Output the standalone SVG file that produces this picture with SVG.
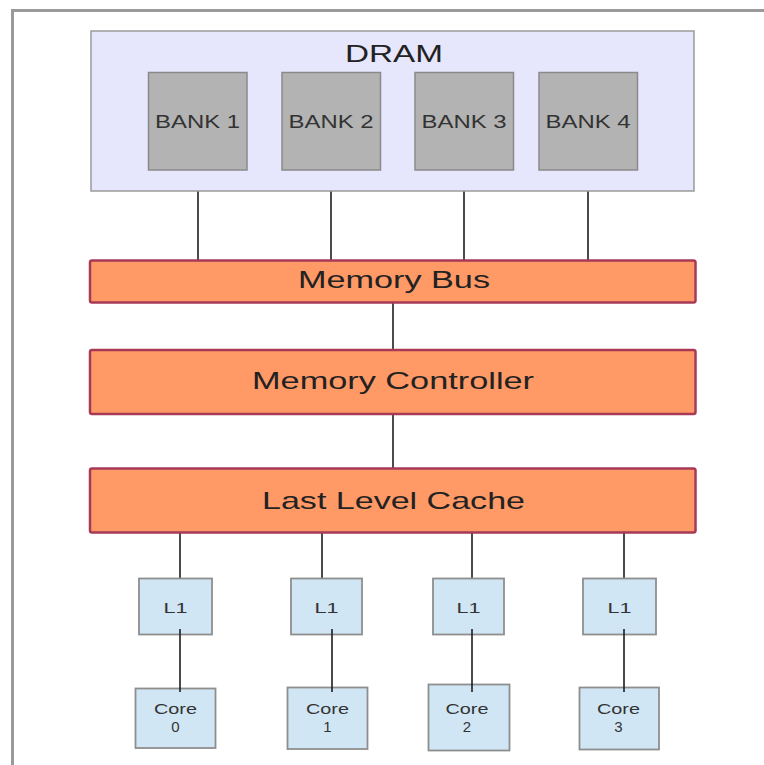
<svg xmlns="http://www.w3.org/2000/svg" width="764" height="765" viewBox="0 0 764 765">
  <style>
    .frame { fill: none; stroke: #9a9a9a; stroke-width: 3; }
    .dram { fill: #e6e6fc; stroke: #9a9a9a; stroke-width: 1.5; }
    .bank { fill: #b3b3b3; stroke: #8a8a8a; stroke-width: 1.5; }
    .bar { fill: #ff9966; stroke: #a83a58; stroke-width: 2.5; }
    .cache { fill: #d0e6f4; stroke: #8e8e8e; stroke-width: 1.8; }
    .wire { stroke: #1e1e1e; stroke-width: 1.6; fill: none; }
    text { font-family: "Liberation Sans", Arial, sans-serif; text-anchor: middle; fill: #222; }
    .t-big { font-size: 24px; }
    .t-bank { font-size: 18px; fill: #333; }
    .t-small { font-size: 15px; fill: #333; }
  </style>

  <!-- outer frame (left and top edges only) -->
  <path class="frame" d="M12.5 765 V10.5 H764"/>

  <!-- connectors -->
  <g id="connectors">
    <line class="wire" x1="198" y1="170" x2="198" y2="260"/>
    <line class="wire" x1="331" y1="170" x2="331" y2="260"/>
    <line class="wire" x1="464" y1="170" x2="464" y2="260"/>
    <line class="wire" x1="588" y1="170" x2="588" y2="260"/>
    <line class="wire" x1="393" y1="303" x2="393" y2="350"/>
    <line class="wire" x1="393" y1="414" x2="393" y2="468"/>
    <line class="wire" x1="180" y1="533" x2="180" y2="578"/>
    <line class="wire" x1="322" y1="533" x2="322" y2="578"/>
    <line class="wire" x1="472" y1="533" x2="472" y2="578"/>
    <line class="wire" x1="624" y1="533" x2="624" y2="578"/>
  </g>

  <!-- DRAM with its four banks -->
  <g id="dram">
    <rect class="dram" x="91" y="31" width="603" height="160"/>
    <text class="t-big" x="394" y="62" textLength="98" lengthAdjust="spacingAndGlyphs">DRAM</text>
  </g>
  <g id="bank1">
    <rect class="bank" x="148.5" y="72.5" width="98.5" height="97.5"/>
    <text class="t-bank" x="197.5" y="128" textLength="85" lengthAdjust="spacingAndGlyphs">BANK 1</text>
  </g>
  <g id="bank2">
    <rect class="bank" x="282" y="72.5" width="98.5" height="97.5"/>
    <text class="t-bank" x="331" y="128" textLength="85" lengthAdjust="spacingAndGlyphs">BANK 2</text>
  </g>
  <g id="bank3">
    <rect class="bank" x="415" y="72.5" width="98.5" height="97.5"/>
    <text class="t-bank" x="464" y="128" textLength="85" lengthAdjust="spacingAndGlyphs">BANK 3</text>
  </g>
  <g id="bank4">
    <rect class="bank" x="539" y="72.5" width="98.5" height="97.5"/>
    <text class="t-bank" x="588" y="128" textLength="85" lengthAdjust="spacingAndGlyphs">BANK 4</text>
  </g>

  <!-- shared levels -->
  <g id="memory-bus">
    <rect class="bar" x="90" y="260.5" width="605.5" height="42" rx="2"/>
    <text class="t-big" x="394" y="288" textLength="192" lengthAdjust="spacingAndGlyphs">Memory Bus</text>
  </g>
  <g id="memory-controller">
    <rect class="bar" x="90" y="350" width="605.5" height="64" rx="2"/>
    <text class="t-big" x="393" y="389" textLength="282" lengthAdjust="spacingAndGlyphs">Memory Controller</text>
  </g>
  <g id="last-level-cache">
    <rect class="bar" x="90" y="468.5" width="605.5" height="64" rx="2"/>
    <text class="t-big" x="393.5" y="509" textLength="263" lengthAdjust="spacingAndGlyphs">Last Level Cache</text>
  </g>

  <!-- private L1 caches -->
  <g id="l1-0">
    <rect class="cache" x="139" y="578.5" width="73" height="56"/>
    <text class="t-small" x="175.5" y="613" textLength="24" lengthAdjust="spacingAndGlyphs">L1</text>
  </g>
  <g id="l1-1">
    <rect class="cache" x="291" y="578.5" width="71" height="56"/>
    <text class="t-small" x="326.5" y="613" textLength="24" lengthAdjust="spacingAndGlyphs">L1</text>
  </g>
  <g id="l1-2">
    <rect class="cache" x="433" y="578.5" width="71" height="56"/>
    <text class="t-small" x="468.5" y="613" textLength="24" lengthAdjust="spacingAndGlyphs">L1</text>
  </g>
  <g id="l1-3">
    <rect class="cache" x="583" y="578.5" width="73" height="56"/>
    <text class="t-small" x="619.5" y="613" textLength="24" lengthAdjust="spacingAndGlyphs">L1</text>
  </g>

  <!-- cores -->
  <g id="core-0">
    <rect class="cache" x="135.5" y="688.5" width="80" height="59.5"/>
    <text class="t-small" x="175.5" y="714" textLength="43" lengthAdjust="spacingAndGlyphs">Core</text>
    <text class="t-small" x="175.5" y="732">0</text>
  </g>
  <g id="core-1">
    <rect class="cache" x="287.5" y="687.5" width="80" height="61.5"/>
    <text class="t-small" x="327.5" y="714" textLength="43" lengthAdjust="spacingAndGlyphs">Core</text>
    <text class="t-small" x="327.5" y="732">1</text>
  </g>
  <g id="core-2">
    <rect class="cache" x="428.5" y="684.5" width="81" height="66"/>
    <text class="t-small" x="467" y="714" textLength="43" lengthAdjust="spacingAndGlyphs">Core</text>
    <text class="t-small" x="467" y="732">2</text>
  </g>
  <g id="core-3">
    <rect class="cache" x="579.5" y="687.5" width="79.5" height="62"/>
    <text class="t-small" x="618.5" y="714" textLength="43" lengthAdjust="spacingAndGlyphs">Core</text>
    <text class="t-small" x="618.5" y="732">3</text>
  </g>

  <!-- L1 to core links, drawn over the box edges -->
  <g id="core-links">
    <line class="wire" x1="180" y1="629" x2="180" y2="692"/>
    <line class="wire" x1="332" y1="629" x2="332" y2="692"/>
    <line class="wire" x1="472" y1="629" x2="472" y2="692"/>
    <line class="wire" x1="624" y1="629" x2="624" y2="692"/>
  </g>
</svg>
